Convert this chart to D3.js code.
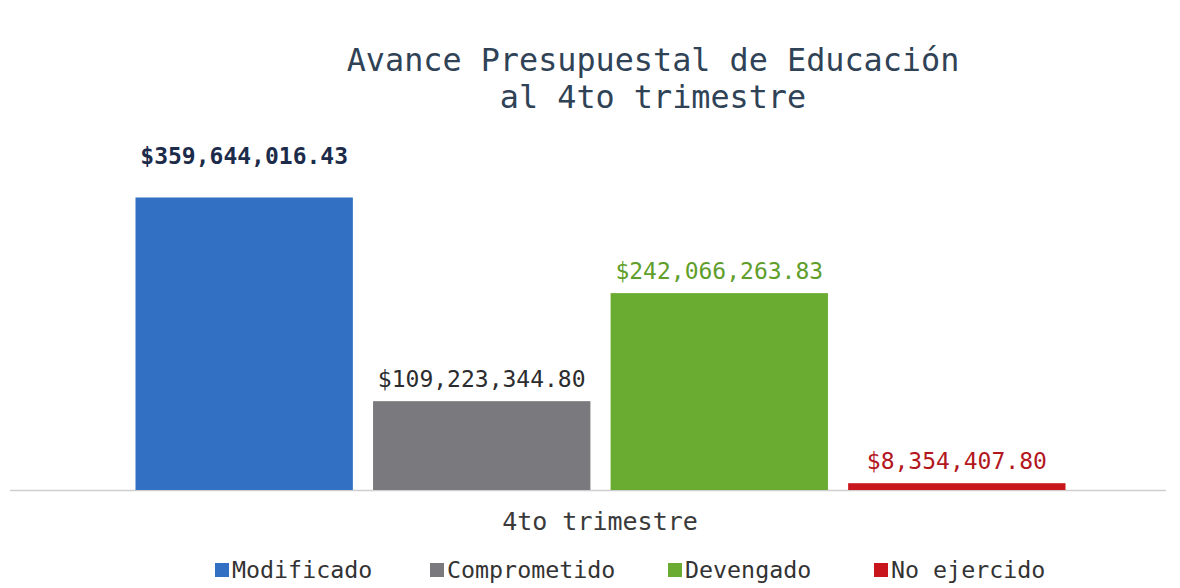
<!DOCTYPE html>
<html><head><meta charset="utf-8">
<script src="https://cdn.jsdelivr.net/npm/d3@7"></script>
<style>body{margin:0;background:#fff}svg{display:block}text{font-family:"DejaVu Sans Mono","Liberation Mono",monospace}</style>
</head><body><svg id="c" width="1180" height="588"></svg>
<script>
const categories = ["Modificado","Comprometido","Devengado","No ejercido"];
const values = [359644016.43, 109223344.80, 242066263.83, 8354407.80];
const labels = ["$359,644,016.43","$109,223,344.80","$242,066,263.83","$8,354,407.80"];
const barColors = ["#3170c2","#7a797d","#6aab31","#c9161c"];
const labelColors = ["#1c2b4a","#2c2c2e","#5f9e2b","#b3171d"];
const axisLabel = "4to trimestre";
const titleLines = ["Avance Presupuestal de Educación","al 4to trimestre"];

const svg = d3.select("#c");
const x = d3.scaleBand().domain(categories).range([126,1075]).paddingInner(0.085).paddingOuter(0.04);
const y = d3.scaleLinear().domain([0, 450000000]).range([490, 124]);

svg.append("line").attr("x1",10).attr("x2",1166).attr("y1",490.5).attr("y2",490.5)
  .attr("stroke","#cfcfcf").attr("stroke-width",1.5);

svg.selectAll("rect.bar").data(categories).join("rect").attr("class","bar")
  .attr("x",d=>x(d)).attr("width",x.bandwidth())
  .attr("y",(d,i)=>y(values[i])).attr("height",(d,i)=>y(0)-y(values[i]))
  .attr("fill",(d,i)=>barColors[i]);

svg.selectAll("text.lab").data(categories).join("text").attr("class","lab")
  .attr("x",d=>x(d)+x.bandwidth()/2).attr("y",(d,i)=>y(values[i])-(i===0?33:14))
  .attr("text-anchor","middle").attr("font-size",23).attr("font-weight",(d,i)=>i===0?"bold":"normal")
  .attr("fill",(d,i)=>labelColors[i]).text((d,i)=>labels[i]);

svg.selectAll("text.title").data(titleLines).join("text").attr("class","title")
  .attr("x",653).attr("y",(d,i)=>71+i*37).attr("text-anchor","middle")
  .attr("font-size",31.8).attr("fill","#2f4256").text(d=>d);

svg.append("text").attr("x",600).attr("y",530).attr("text-anchor","middle")
  .attr("font-size",25).attr("fill","#3a3a3a").text(axisLabel);

const legX = [215,430,668,874];
const lg = svg.selectAll("g.leg").data(categories).join("g").attr("class","leg")
  .attr("transform",(d,i)=>`translate(${legX[i]},570)`);
lg.append("rect").attr("x",0).attr("y",-7).attr("width",14).attr("height",14).attr("fill",(d,i)=>barColors[i]);
lg.append("text").attr("x",17).attr("y",8).attr("font-size",23.3).attr("fill","#333").text(d=>d);
</script></body></html>
